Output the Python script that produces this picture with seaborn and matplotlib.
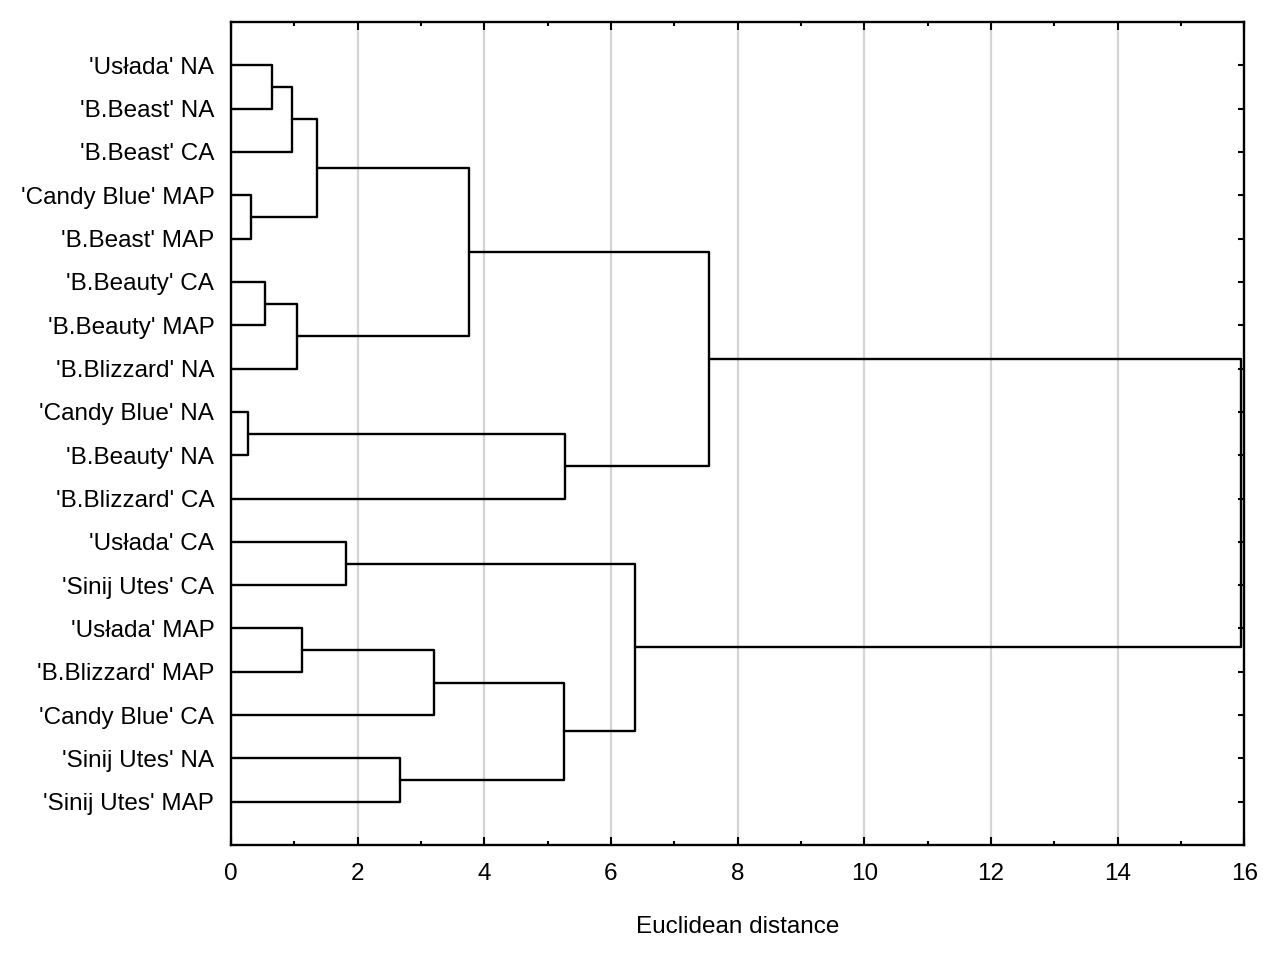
import matplotlib
matplotlib.use("Agg")
import matplotlib.pyplot as plt
from matplotlib.ticker import MultipleLocator
import pandas as pd
import seaborn as sns

# leaf labels, top to bottom
leaves = ["'Usłada' NA", "'B.Beast' NA", "'B.Beast' CA", "'Candy Blue' MAP",
          "'B.Beast' MAP", "'B.Beauty' CA", "'B.Beauty' MAP", "'B.Blizzard' NA",
          "'Candy Blue' NA", "'B.Beauty' NA", "'B.Blizzard' CA", "'Usłada' CA",
          "'Sinij Utes' CA", "'Usłada' MAP", "'B.Blizzard' MAP", "'Candy Blue' CA",
          "'Sinij Utes' NA", "'Sinij Utes' MAP"]

# merges (linkage style): new cluster ids start at len(leaves)
left_id = [8, 3, 5, 0, 21, 20, 13, 22, 11, 16, 24, 25, 28, 18, 26, 29, 33]
right_id = [9, 4, 6, 1, 2, 7, 14, 19, 12, 17, 15, 23, 27, 10, 30, 31, 32]
height = [0.27, 0.32, 0.54, 0.65, 0.96, 1.04, 1.12, 1.36, 1.82, 2.67,
          3.21, 3.76, 5.26, 5.28, 6.38, 7.55, 15.95]

# build link segments
pos = {i: (0.0, float(i)) for i in range(len(leaves))}
rows = []
for k, (a, b, h) in enumerate(zip(left_id, right_id, height)):
    xa, ya = pos[a]
    xb, yb = pos[b]
    for px, py in [(xa, ya), (h, ya), (h, yb), (xb, yb)]:
        rows.append({"link": k, "x": px, "y": py})
    pos[len(leaves) + k] = (h, (ya + yb) / 2)
segs = pd.DataFrame(rows)

sns.set_theme(style="white")
plt.rcParams['font.family'] = ['Liberation Sans', 'DejaVu Sans']
plt.rcParams['text.color'] = 'black'
plt.rcParams['axes.labelcolor'] = 'black'
plt.rcParams['xtick.color'] = 'black'
plt.rcParams['ytick.color'] = 'black'

fig = plt.figure(figsize=(12.8, 9.56), dpi=100)
ax = fig.add_axes([0.1805, 0.116, 0.7915, 0.861])

ax.grid(axis='x', color='#d4d4d4', linewidth=1.6)
ax.set_axisbelow(True)

sns.lineplot(data=segs, x="x", y="y", units="link", estimator=None, sort=False,
             color='black', linewidth=1.7, ax=ax, legend=False)

ax.set_xlim(0, 16)
ax.set_ylim(len(leaves), -1)
ax.xaxis.set_major_locator(MultipleLocator(2))
ax.xaxis.set_minor_locator(MultipleLocator(1))
ax.set_yticks(range(len(leaves)))
ax.set_yticklabels(leaves)

ax.tick_params(axis='x', which='major', direction='in', top=True, bottom=True,
               length=6, width=1.5, labelsize=17.5, pad=13)
ax.tick_params(axis='x', which='minor', direction='in', top=True, bottom=True,
               length=3, width=1.5)
ax.tick_params(axis='y', direction='in', left=False, right=True, length=4,
               width=1.5, labelsize=17.5, pad=12)

for s in ax.spines.values():
    s.set_color('black')
    s.set_linewidth(1.7)

ax.set_xlabel("Euclidean distance", fontsize=17.5, labelpad=22)
ax.set_ylabel("")

fig.savefig("out.png", dpi=100, facecolor='white')
